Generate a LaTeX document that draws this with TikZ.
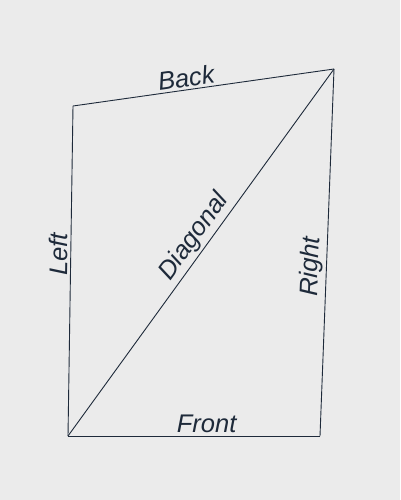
\documentclass[tikz,border=0pt]{standalone}
\usepackage{fontspec}
\setmainfont{Liberation Sans}
\definecolor{paper-grey}{HTML}{EBEBEB}
\definecolor{ink-navy}{HTML}{1E2A3A}

\begin{document}
\begin{tikzpicture}[
    x=1pt, y=-1pt,
    edge/.style={
        draw=ink-navy, line width=0.9pt,
    },
    side label/.style={
        sloped, above, inner sep=2.5pt, text=ink-navy,
        font=\fontsize{25.5}{30}\selectfont\itshape,
    },
]

\useasboundingbox[fill=paper-grey] (0,0) rectangle (400,500);

\coordinate (back left) at (73,106);
\coordinate (back right) at (334,69);
\coordinate (front right) at (320,436);
\coordinate (front left) at (68,436);

\draw[edge] (back left) -- node[side label, pos=.44] (back) {Back} (back right);
\draw[edge] (front left) -- node[side label, pos=.55] (left) {Left} (back left);
\draw[edge] (front right) -- node[side label, pos=.46] (right) {Right} (back right);
\draw[edge] (front left) -- node[side label, pos=.55] (front) {Front} (front right);
\draw[edge] (front left) -- node[side label, pos=.52] (diagonal) {Diagonal} (back right);
\end{tikzpicture}
\end{document}
